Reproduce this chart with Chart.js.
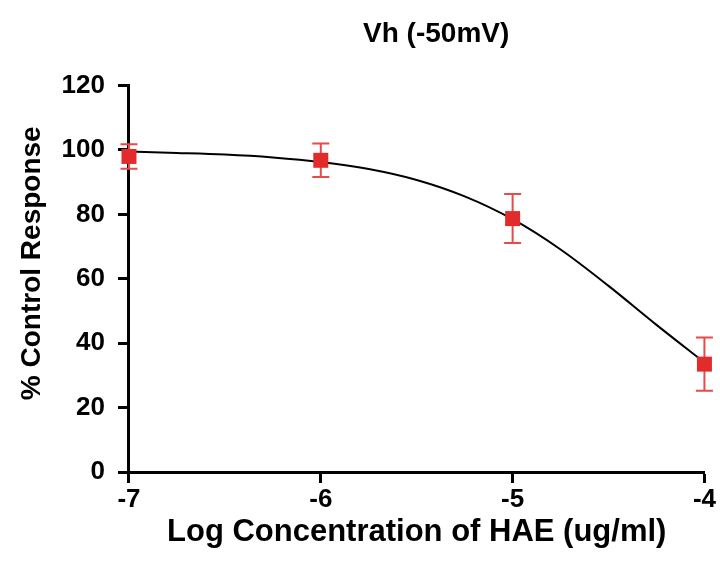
<!DOCTYPE html>
<html>
<head>
<meta charset="utf-8">
<script src="https://cdn.jsdelivr.net/npm/chart.js@4/dist/chart.umd.min.js"></script>
<style>
  html, body { margin: 0; padding: 0; background: #fff; }
  #wrap { width: 720px; height: 573px; position: relative; }
</style>
</head>
<body>
<div id="wrap"><canvas id="chart"></canvas></div>
<script>
// measured points
const logConc = [-7, -6, -5, -4];
const response = [98, 96.8, 78.7, 33.5];
const errors = [3.8, 5.2, 7.6, 8.3];

// fitted curve
const curveX = [-7, -6.75, -6.5, -6.25, -6, -5.75, -5.5, -5.25, -5, -4.75, -4.5, -4.25, -4];
const curveY = [99.5, 99.1, 98.6, 97.7, 96.3, 94.1, 90.7, 85.6, 78.5, 69.1, 57.8, 45.7, 34.0];

const xTicks = [-7, -6, -5, -4];
const yTicks = [0, 20, 40, 60, 80, 100, 120];

const red = "#e22b2b";
const font = "'Liberation Sans', Arial, Helvetica, sans-serif";

// ERROR BARS
const errorBars = {
  id: "errorBars",
  beforeDatasetsDraw(chart) {
    const { ctx, scales: { x, y } } = chart;
    ctx.save();
    ctx.strokeStyle = "#e84a4a";
    ctx.lineWidth = 2;
    logConc.forEach((v, i) => {
      const px = x.getPixelForValue(v);
      const top = y.getPixelForValue(response[i] + errors[i]);
      const bot = y.getPixelForValue(response[i] - errors[i]);
      ctx.beginPath();
      ctx.moveTo(px, top); ctx.lineTo(px, bot);
      ctx.moveTo(px - 8.5, top); ctx.lineTo(px + 8.5, top);
      ctx.moveTo(px - 8.5, bot); ctx.lineTo(px + 8.5, bot);
      ctx.stroke();
    });
    ctx.restore();
  }
};

const axisStyle = {
  border: { color: "#000", width: 3 },
  grid: { drawOnChartArea: false, drawTicks: true, tickLength: 11, tickColor: "#000", tickWidth: 3 },
};

new Chart(document.getElementById("chart"), {
  type: "scatter",
  data: {
    datasets: [
      {
        label: "Data",
        data: logConc.map((v, i) => ({ x: v, y: response[i] })),
        pointStyle: "rect",
        pointRadius: 10.6,
        backgroundColor: red,
        borderColor: red,
        borderWidth: 0,
        clip: false,
        order: 0
      },
      {
        label: "Fit",
        type: "line",
        data: curveX.map((v, i) => ({ x: v, y: curveY[i] })),
        borderColor: "#000",
        borderWidth: 2,
        pointRadius: 0,
        tension: 0.4,
        cubicInterpolationMode: "monotone",
        fill: false,
        clip: false,
        order: 1
      }
    ]
  },
  options: {
    responsive: true,
    maintainAspectRatio: false,
    devicePixelRatio: 1,
    animation: false,
    layout: { padding: { left: 11, right: 0, top: 17, bottom: 21 } },
    plugins: {
      legend: { display: false },
      tooltip: { enabled: false },
      title: {
        display: true,
        text: "     Vh (-50mV)",
        fullSize: false,
        color: "#000",
        font: { family: font, size: 28, weight: "bold" },
        padding: { top: 0, bottom: 35 }
      }
    },
    scales: {
      x: {
        type: "linear",
        min: -7, max: -4,
        afterBuildTicks: axis => { axis.ticks = xTicks.map(v => ({ value: v })); },
        ticks: { color: "#000", font: { family: font, size: 26, weight: "bold", lineHeight: 1 }, padding: 4 },
        title: { display: true, text: "Log Concentration of HAE (ug/ml)", color: "#000",
                 font: { family: font, size: 31, weight: "bold", lineHeight: 1 }, padding: { top: 0 } },
        ...axisStyle
      },
      y: {
        min: 0, max: 120,
        afterBuildTicks: axis => { axis.ticks = yTicks.map(v => ({ value: v })); },
        ticks: { color: "#000", font: { family: font, size: 26, weight: "bold" }, padding: 13 },
        title: { display: true, text: "    % Control Response", color: "#000",
                 font: { family: font, size: 28, weight: "bold" }, padding: { bottom: 0 } },
        ...axisStyle
      }
    }
  },
  plugins: [errorBars]
});
</script>
</body>
</html>
